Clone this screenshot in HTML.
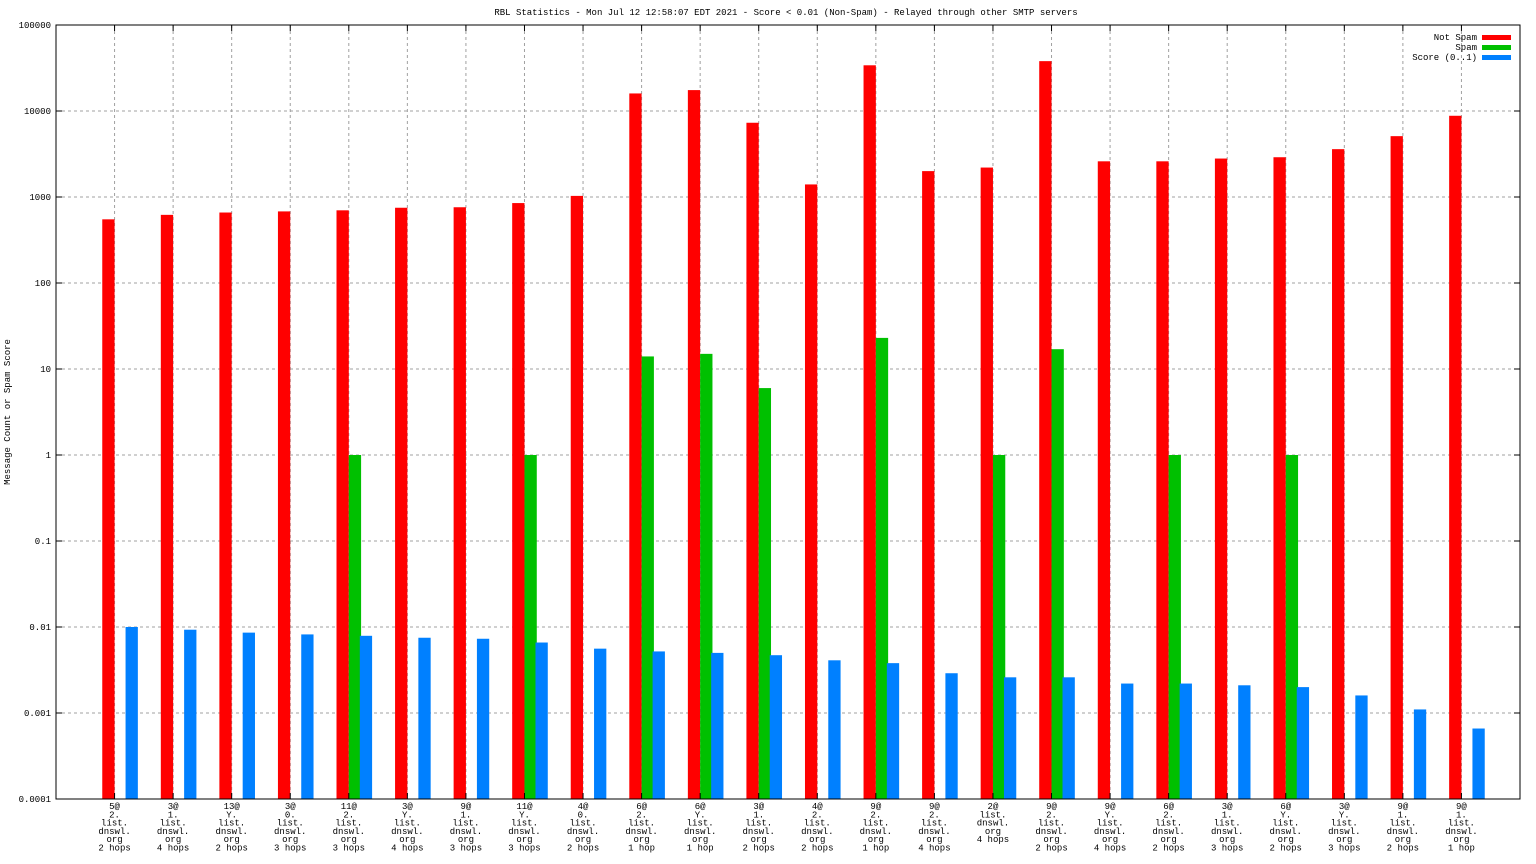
<!DOCTYPE html>
<html><head><meta charset="utf-8"><style>
body{margin:0;background:#fff}
svg{display:block}
text{font-family:"Liberation Mono","DejaVu Sans Mono",monospace;font-size:9px;fill:#000}
</style></head><body>
<svg id="chart" width="1536" height="864" viewBox="0 0 1536 864" xmlns="http://www.w3.org/2000/svg">
<text x="786" y="15" text-anchor="middle">RBL Statistics - Mon Jul 12 12:58:07 EDT 2021 - Score &lt; 0.01 (Non-Spam) - Relayed through other SMTP servers</text>
<text transform="translate(10,412) rotate(-90)" text-anchor="middle">Message Count or Spam Score</text>
<g id="grid"></g><g id="bars"></g><g id="axes"></g>
<g>
<text x="1477" y="40" text-anchor="end">Not Spam</text>
<rect x="1482" y="35" width="29" height="5" fill="#ff0000"/>
<text x="1477" y="50" text-anchor="end">Spam</text>
<rect x="1482" y="45" width="29" height="5" fill="#00c000"/>
<text x="1477" y="60" text-anchor="end">Score (0..1)</text>
<rect x="1482" y="55" width="29" height="5" fill="#0080ff"/>
</g>
</svg>
<script>
const categories=[
["5@","2.","list.","dnswl.","org","2 hops"],["3@","1.","list.","dnswl.","org","4 hops"],
["13@","Y.","list.","dnswl.","org","2 hops"],["3@","0.","list.","dnswl.","org","3 hops"],
["11@","2.","list.","dnswl.","org","3 hops"],["3@","Y.","list.","dnswl.","org","4 hops"],
["9@","1.","list.","dnswl.","org","3 hops"],["11@","Y.","list.","dnswl.","org","3 hops"],
["4@","0.","list.","dnswl.","org","2 hops"],["6@","2.","list.","dnswl.","org","1 hop"],
["6@","Y.","list.","dnswl.","org","1 hop"],["3@","1.","list.","dnswl.","org","2 hops"],
["4@","2.","list.","dnswl.","org","2 hops"],["9@","2.","list.","dnswl.","org","1 hop"],
["9@","2.","list.","dnswl.","org","4 hops"],["2@","list.","dnswl.","org","4 hops"],
["9@","2.","list.","dnswl.","org","2 hops"],["9@","Y.","list.","dnswl.","org","4 hops"],
["6@","2.","list.","dnswl.","org","2 hops"],["3@","1.","list.","dnswl.","org","3 hops"],
["6@","Y.","list.","dnswl.","org","2 hops"],["3@","Y.","list.","dnswl.","org","3 hops"],
["9@","1.","list.","dnswl.","org","2 hops"],["9@","1.","list.","dnswl.","org","1 hop"]];
const notSpam=[550,620,660,680,700,750,760,850,1030,16000,17500,7300,1400,34000,2000,2200,38000,2600,2600,2800,2900,3600,5100,8800];
const spam=[0,0,0,0,1,0,0,1,0,14,15,6,0,23,0,1,17,0,1,0,1,0,0,0];
const score=[0.0100,0.0093,0.0086,0.0082,0.0079,0.0075,0.0073,0.0066,0.0056,0.0052,0.0050,0.0047,0.0041,0.0038,0.0029,0.0026,0.0026,0.0022,0.0022,0.0021,0.0020,0.0016,0.0011,0.00066];
const yTicks=["0.0001","0.001","0.01","0.1","1","10","100","1000","10000","100000"];
const NS="http://www.w3.org/2000/svg";
const L=56,R=1520,T=25,B=799;
const yScale=v=>B-(Math.log10(v)+4)*(B-T)/9;
const xScale=i=>L+(R-L)/(categories.length+1)*(i+1);
function mk(tag,attrs,parent){const e=document.createElementNS(NS,tag);for(const k in attrs)e.setAttribute(k,attrs[k]);parent.appendChild(e);return e;}
const grid=document.getElementById('grid'),bars=document.getElementById('bars'),axes=document.getElementById('axes');
yTicks.forEach(t=>{const y=yScale(parseFloat(t));
 if(y>T&&y<B){const g=mk('line',{x1:L,x2:R,y1:y,y2:y,stroke:'#a0a0a0','stroke-dasharray':'3,3','stroke-width':1},grid);
 }
 const tk=mk('line',{x1:L,x2:L+6,y1:y,y2:y,stroke:'#000'},axes);
 
 const tk2=mk('line',{x1:R-6,x2:R,y1:y,y2:y,stroke:'#000'},axes);
 
 const tx=mk('text',{x:L-5,y:y+3,'text-anchor':'end'},axes);tx.textContent=t;
 });
categories.forEach((c,i)=>{const x=xScale(i);
 const g=mk('line',{x1:x,x2:x,y1:T,y2:B,stroke:'#a0a0a0','stroke-dasharray':'3,3'},grid);
 
 const tk=mk('line',{x1:x,x2:x,y1:B-6,y2:B,stroke:'#000'},axes);
 
 const tk2=mk('line',{x1:x,x2:x,y1:T,y2:T+6,stroke:'#000'},axes);
 
 const tx=mk('text',{'text-anchor':'middle'},axes);
 
 c.forEach((ln,j)=>{const s=mk('tspan',{x:x,y:809+j*8.3},tx);s.textContent=ln;});
 const w=12.3;
 if(notSpam[i]>0){const r=mk('rect',{x:x-w,y:yScale(notSpam[i]),width:w,height:B-yScale(notSpam[i]),fill:'#ff0000'},bars);
  }
 if(spam[i]>0){const r=mk('rect',{x:x,y:yScale(spam[i]),width:w,height:B-yScale(spam[i]),fill:'#00c000'},bars);
  }
 if(score[i]>0){const r=mk('rect',{x:x+11,y:yScale(score[i]),width:w,height:B-yScale(score[i]),fill:'#0080ff'},bars);
  }
});
const fr=mk('rect',{x:L,y:T,width:R-L,height:B-T,fill:'none',stroke:'#000','stroke-width':1},axes);

</script>
</body></html>
